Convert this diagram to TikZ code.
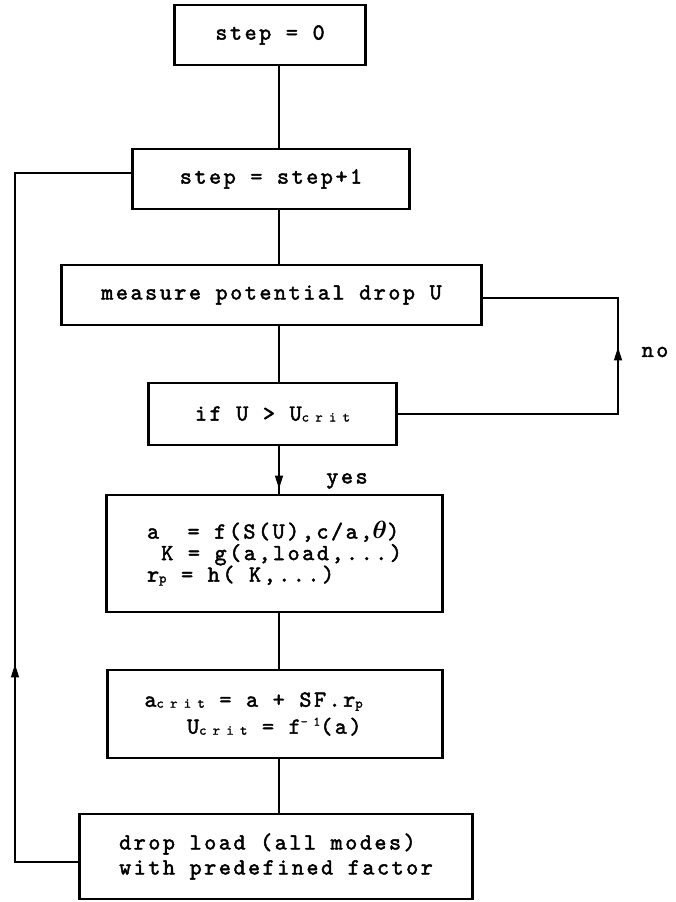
\documentclass[tikz,border=0pt]{standalone}
\usepackage{fontspec}
\newfontfamily\tw{lmmono10-regular.otf}[LetterSpace=11,FakeBold=2]
\newfontfamily\tws{lmmono10-regular.otf}[LetterSpace=45,FakeBold=1.5]
\usetikzlibrary{arrows.meta,decorations.markings}
\newcommand\sbs[1]{\raisebox{-1pt}{\fontsize{14}{14}\tws #1}}
\newcommand\sps[1]{\raisebox{8pt}{\fontsize{13}{13}\tws #1}}
\newcommand\blank{\hspace*{14.2pt}}
\begin{document}
\begin{tikzpicture}[x=1pt,y=-1pt,
  box/.style={draw,line width=1.4pt,inner sep=0pt,font=\tw\fontsize{23}{22}\selectfont},
  conn/.style={line width=1.1pt},
  lbl/.style={font=\tw\fontsize{23}{22}\selectfont,inner sep=0pt},
  midarrow/.style={postaction={decorate,decoration={markings,
    mark=at position #1 with {\arrow{Triangle[width=8pt,length=13pt]}}}}}]
\fill[white] (0,0) rectangle (676,902);
\useasboundingbox (0,0) rectangle (676,902);

\node[box,minimum width=190pt,minimum height=60pt] (b1) at (270,35) {step = 0};
\node[box,minimum width=276pt,minimum height=60pt] (b2) at (271,179) {step = step+1};
\node[box,minimum width=419pt,minimum height=60pt] (b3) at (271.5,295) {measure potential drop U};
\node[box,minimum width=247pt,minimum height=62pt] (b4) at (272.5,414) {if U > U\sbs{crit}};
\node[box,minimum width=335pt,minimum height=117pt,align=left,
      font=\tw\fontsize{23}{21.5}\selectfont] (b5) at (274.5,553.5)
  {a\blank\blank= f(S(U),c/a,{\boldmath$\theta$})\\
   \blank K = g(a,load,...)\\
   r\sbs{p} = h( K,...)};
\node[box,minimum width=334pt,minimum height=88pt,align=left,
      font=\tw\fontsize{23}{27}\selectfont] (b6) at (275,714)
  {a\sbs{crit} = a + SF.r\sbs{p}\\
   \blank\blank\blank U\sbs{crit} = f\sps{-1}(a)\hspace*{44pt}};
\node[box,minimum width=392pt,minimum height=85pt,align=left,
      font=\tw\fontsize{23}{25}\selectfont] (b7) at (276,856.5)
  {drop load (all modes)\\with predefined factor};

\foreach \n in {b1,b2,b3,b4,b5,b6,b7}
  \draw[line width=3pt] (\n.north west) -- (\n.south west)
                        (\n.north east) -- (\n.south east);

\coordinate (spine) at (279,0);
\coordinate (lft) at (15,0);
\coordinate (rgt) at (618,0);

\draw[conn] (b1.south -| spine) -- (b2.north -| spine);
\draw[conn] (b2.south -| spine) -- (b3.north -| spine);
\draw[conn] (b3.south -| spine) -- (b4.north -| spine);
\draw[conn,midarrow=43pt] (b4.south -| spine) -- (b5.north -| spine);
\draw[conn] (b5.south -| spine) -- (b6.north -| spine);
\draw[conn] (b6.south -| spine) -- (b7.north -| spine);

\draw[conn,midarrow=288pt] (b4.east) -- (b4.east -| rgt) -- ([yshift=-3pt]b3.east -| rgt) -- ([yshift=-3pt]b3.east);
\draw[conn,midarrow=262pt] ([yshift=-5.5pt]b7.west) -- ([yshift=-5.5pt]b7.west -| lft) -- ([yshift=6pt]b2.west -| lft) -- ([yshift=6pt]b2.west);

\node[lbl] (no) at (655,352) {no};
\node[lbl] (yes) at (347,481) {yes};
\end{tikzpicture}
\end{document}
